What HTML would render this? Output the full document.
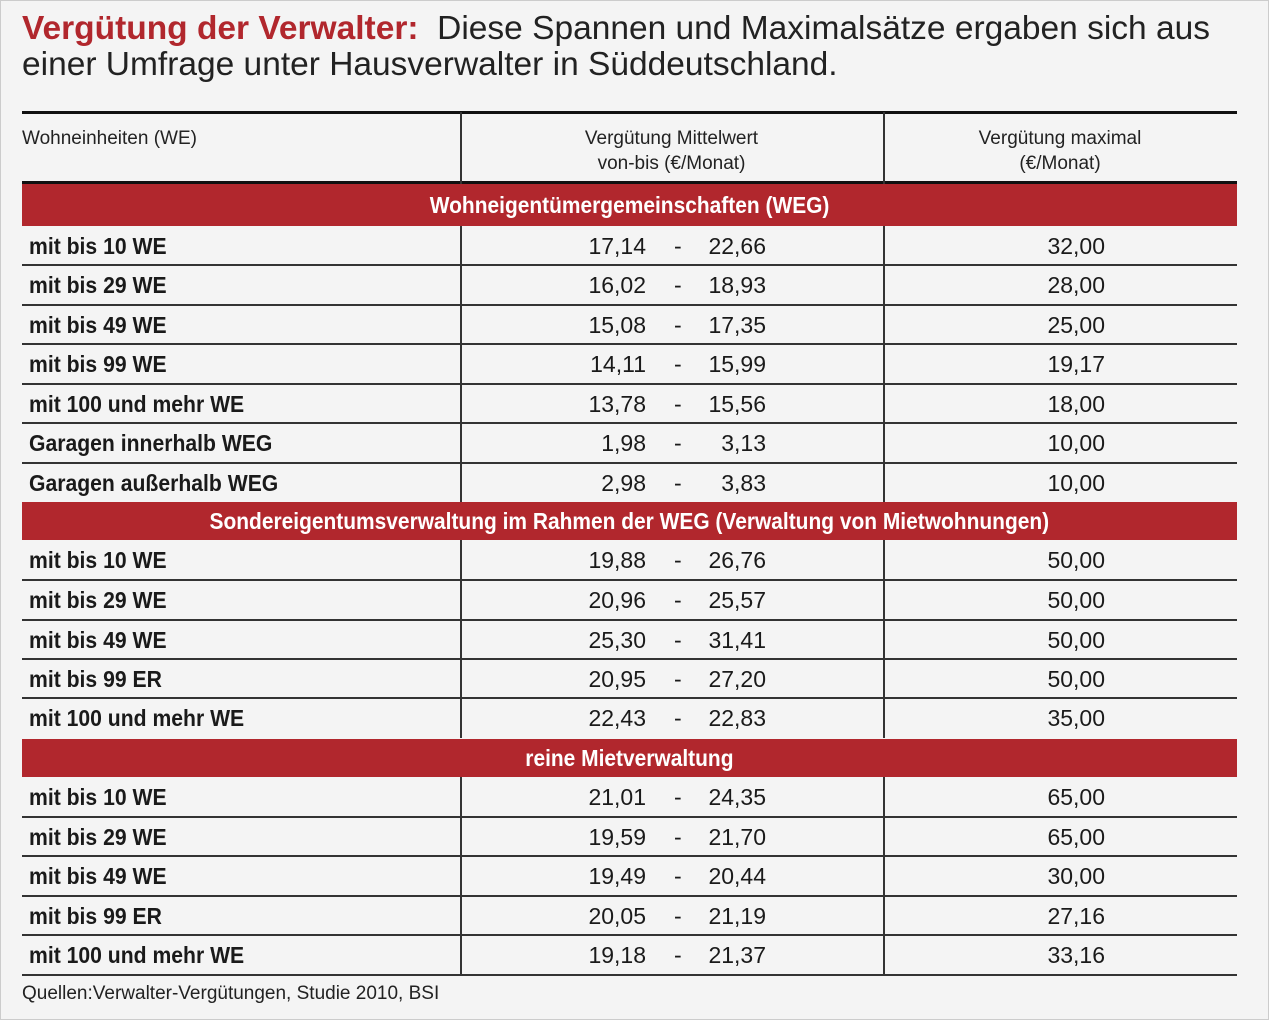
<!DOCTYPE html>
<html><head><meta charset="utf-8"><style>
body{margin:0;width:1269px;height:1020px;background:#f4f4f4;position:relative;overflow:hidden;font-family:"Liberation Sans",sans-serif;color:#1a1a1a}
.a{position:absolute;white-space:nowrap}
.t{font-family:"Liberation Sans",sans-serif;font-size:33.5px;color:#222;left:22px}
.h{font-size:19px;color:#222;text-align:center;line-height:25px}
.band{position:absolute;left:22px;width:1215px;background:#b1272d;color:#fff;font-weight:bold;font-size:23px;text-align:center}
.band span{display:inline-block;transform:scaleX(0.91)}
.hl{position:absolute;left:22px;width:1215px;height:2px;background:#333}
.vl{position:absolute;width:1.5px;background:#333}
.lbl{left:29px;font-weight:bold;font-size:23px;transform:scaleX(0.92);transform-origin:0 0}
.n{font-size:23px}
</style></head><body>
<div style="position:absolute;left:0;top:0;width:1267px;height:1018px;border:1px solid #ccc"></div>
<div class="a t" style="top:10px"><b style="color:#b1272d">Vergütung der Verwalter:</b>&nbsp; Diese Spannen und Maximalsätze ergaben sich aus</div>
<div class="a t" style="top:46px">einer Umfrage unter Hausverwalter in Süddeutschland.</div>
<div class="hl" style="top:111px;height:3px;background:#111"></div>
<div class="hl" style="top:181px;height:3px;background:#111"></div>
<div class="a h" style="left:22px;top:126px;text-align:left">Wohneinheiten (WE)</div>
<div class="a h" style="left:460px;width:423px;top:126px">Vergütung Mittelwert<br>von-bis (€/Monat)</div>
<div class="a h" style="left:883px;width:354px;top:126px">Vergütung maximal<br>(€/Monat)</div>
<div id="c"></div>
<div class="a" style="left:22px;top:983px;font-size:19px;color:#222">Quellen:Verwalter-Vergütungen, Studie 2010, BSI</div>
<script>
var c=document.getElementById('c'),h='';
function vl(t,b){h+='<div class="vl" style="left:460px;top:'+t+'px;height:'+(b-t)+'px"></div><div class="vl" style="left:883px;top:'+t+'px;height:'+(b-t)+'px"></div>';}
vl(112,184);
function band(t,b,txt){h+='<div class="band" style="top:'+t+'px;height:'+(b-t)+'px;line-height:'+(b-t)+'px"><span>'+txt+'</span></div>';}
band(184,226,'Wohneigentümergemeinschaften (WEG)');
band(502,540,'Sondereigentumsverwaltung im Rahmen der WEG (Verwaltung von Mietwohnungen)');
band(739,777,'reine Mietverwaltung');
function rows(tops,data){
 for(var i=0;i<data.length;i++){var t=tops[i],b=tops[i+1],d=data[i],m=(t+b)/2-13;
  if(i<data.length-1)h+='<div class="hl" style="top:'+(b-1)+'px;height:1.5px"></div>';
  h+='<div class="a lbl" style="top:'+m+'px">'+d[0]+'</div>';
  h+='<div class="a n" style="right:'+(1269-646)+'px;top:'+m+'px">'+d[1]+'</div>';
  h+='<div class="a n" style="left:674px;top:'+m+'px">-</div>';
  h+='<div class="a n" style="right:'+(1269-766)+'px;top:'+m+'px">'+d[2]+'</div>';
  h+='<div class="a n" style="right:'+(1269-1105)+'px;top:'+m+'px">'+d[3]+'</div>';}
 vl(tops[0],tops[tops.length-1]);}
rows([226,265,305,344,384,423,463,502],[['mit bis 10 WE','17,14','22,66','32,00'],['mit bis 29 WE','16,02','18,93','28,00'],['mit bis 49 WE','15,08','17,35','25,00'],['mit bis 99 WE','14,11','15,99','19,17'],['mit 100 und mehr WE','13,78','15,56','18,00'],['Garagen innerhalb WEG','1,98','3,13','10,00'],['Garagen außerhalb WEG','2,98','3,83','10,00']]);
rows([540,580,620,659,698,738],[['mit bis 10 WE','19,88','26,76','50,00'],['mit bis 29 WE','20,96','25,57','50,00'],['mit bis 49 WE','25,30','31,41','50,00'],['mit bis 99 ER','20,95','27,20','50,00'],['mit 100 und mehr WE','22,43','22,83','35,00']]);
rows([777,817,856,896,935,975],[['mit bis 10 WE','21,01','24,35','65,00'],['mit bis 29 WE','19,59','21,70','65,00'],['mit bis 49 WE','19,49','20,44','30,00'],['mit bis 99 ER','20,05','21,19','27,16'],['mit 100 und mehr WE','19,18','21,37','33,16']]);
h+='<div class="hl" style="top:974px;height:2px"></div>';
c.innerHTML=h;
</script>
</body></html>
